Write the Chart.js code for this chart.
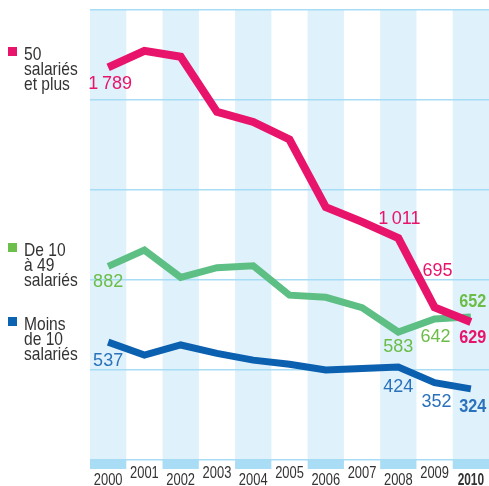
<!DOCTYPE html>
<html>
<head>
<meta charset="utf-8">
<script src="https://cdn.jsdelivr.net/npm/chart.js@4.4.1/dist/chart.umd.min.js"></script>
<style>
  html, body { margin: 0; padding: 0; background: #fff; }
  #box { width: 489px; height: 486px; }
</style>
</head>
<body>
<div id="box"><canvas id="grafica" width="489" height="486"></canvas></div>
<script>
// donnees
const annees = ['2000','2001','2002','2003','2004','2005','2006','2007','2008','2009','2010'];
const plus50 = [1789, 1864, 1837, 1586, 1540, 1460, 1152, 1085, 1011, 695, 629];
const de10a49 = [882, 956, 832, 876, 885, 751, 741, 694, 583, 642, 652];
const moins10 = [537, 478, 524, 486, 455, 436, 410, 417, 424, 352, 324];

// etiquettes affichees (null = pas d'etiquette)
const etiqPlus50 = ['1\u202f789', null, null, null, null, null, null, null, '1\u202f011', '695', '629'];
const etiqDe10 = ['882', null, null, null, null, null, null, null, '583', '642', '652'];
const etiqMoins10 = ['537', null, null, null, null, null, null, null, '424', '352', '324'];

const yMax = 2050;
const yPas = 410;

const police = "'Liberation Sans', Arial, sans-serif";

const rose = '#e8136b';
const vert = '#5dbf84';
const vertTexte = '#6cbd48';
const bleu = '#0b60b0';
const bleuTexte = '#2a72bb';

// decalages des etiquettes par rapport au point [dx, dy]
const decalages = [
  { 0: [2, 17], 8: [1, -19], 9: [3, -36], 10: [2, 16] },
  { 0: [0, 16], 8: [0, 15], 9: [1, 18], 10: [2, -15] },
  { 0: [0, 19], 8: [0, 20], 9: [2, 19], 10: [2, 18] }
];

const legende = [
  { couleur: rose, y: 47, lignes: ['50', 'salariés', 'et plus'] },
  { couleur: '#6cbf4a', y: 243, lignes: ['De 10', 'à 49', 'salariés'] },
  { couleur: '#0b63b2', y: 317, lignes: ['Moins', 'de 10', 'salariés'] }
];

// texte comprime horizontalement (police etroite)
function texte(ctx, s, x, y, sx) {
  ctx.save();
  ctx.translate(x, y);
  ctx.scale(sx, 1);
  ctx.fillText(s, 0, 0);
  ctx.restore();
}

const fond = {
  id: 'fond',
  beforeDraw(chart) {
    const ctx = chart.ctx;
    const a = chart.chartArea;
    const x = chart.scales.x;
    const w = (a.right - a.left) / annees.length;
    ctx.save();
    for (let i = 0; i < annees.length; i++) {
      const cx = x.getPixelForValue(i);
      if (i % 2 == 0) {
        ctx.fillStyle = '#dff1fb';
        ctx.fillRect(cx - w / 2, a.top - 1, w, a.bottom - a.top + 1);
        ctx.fillStyle = '#a9dcf5';
        ctx.fillRect(cx - w / 2, a.bottom, w, 9);
      }
    }
    ctx.restore();
  },
  afterDraw(chart) {
    const ctx = chart.ctx;
    const x = chart.scales.x;
    const a = chart.chartArea;
    ctx.save();
    ctx.textAlign = 'center';
    ctx.textBaseline = 'alphabetic';
    ctx.fillStyle = '#333';
    for (let i = 0; i < annees.length; i++) {
      const cx = x.getPixelForValue(i);
      const gras = i == annees.length - 1;
      ctx.font = (gras ? 'bold ' : '') + '17px ' + police;
      texte(ctx, annees[i], cx, i % 2 == 0 ? a.bottom + 25 : a.bottom + 18, gras ? 0.7 : 0.76);
    }
    // legende
    for (let l of legende) {
      ctx.fillStyle = l.couleur;
      ctx.fillRect(8, l.y, 9, 9);
      ctx.fillStyle = '#333';
      ctx.textAlign = 'left';
      ctx.font = '19px ' + police;
      for (let k = 0; k < l.lignes.length; k++) {
        texte(ctx, l.lignes[k], 24, l.y + 13 + k * 15, 0.82);
      }
    }
    ctx.restore();
  }
};

const etiquettes = {
  id: 'etiquettes',
  afterDatasetsDraw(chart) {
    const ctx = chart.ctx;
    const listes = [etiqPlus50, etiqDe10, etiqMoins10];
    const couleurs = [rose, vertTexte, bleuTexte];
    ctx.save();
    ctx.textAlign = 'center';
    ctx.textBaseline = 'middle';
    for (let s = 0; s < listes.length; s++) {
      const pts = chart.getDatasetMeta(s).data;
      for (let i = 0; i < listes[s].length; i++) {
        if (listes[s][i] == null) continue;
        const d = decalages[s][i] || [0, 16];
        const gras = i == annees.length - 1;
        ctx.font = (gras ? 'bold ' : '') + '18px ' + police;
        ctx.fillStyle = couleurs[s];
        texte(ctx, listes[s][i], pts[i].x + d[0], pts[i].y + d[1], gras ? 0.9 : 1);
      }
    }
    ctx.restore();
  }
};

const ctx = document.getElementById('grafica').getContext('2d');
const grafica = new Chart(ctx, {
  type: 'line',
  data: {
    labels: annees,
    datasets: [{
      label: '50 salariés et plus',
      data: plus50,
      borderColor: rose,
      borderWidth: 8
    }, {
      label: 'De 10 à 49 salariés',
      data: de10a49,
      borderColor: vert,
      borderWidth: 7
    }, {
      label: 'Moins de 10 salariés',
      data: moins10,
      borderColor: bleu,
      borderWidth: 7
    }]
  },
  options: {
    responsive: false,
    animation: false,
    layout: { padding: { left: 90, right: 0, top: 10, bottom: 26 } },
    elements: {
      point: { radius: 0 },
      line: { tension: 0, fill: false, borderJoinStyle: 'miter', borderCapStyle: 'butt' }
    },
    plugins: { legend: { display: false }, tooltip: { enabled: false } },
    scales: {
      x: { display: false, offset: true },
      y: {
        min: 0,
        max: yMax,
        afterFit: function (s) { s.width = 0; },
        ticks: { display: false, stepSize: yPas },
        border: { display: false },
        grid: { color: '#a7dcf5', lineWidth: 1.5, drawTicks: false }
      }
    }
  },
  plugins: [fond, etiquettes]
});
</script>
</body>
</html>
